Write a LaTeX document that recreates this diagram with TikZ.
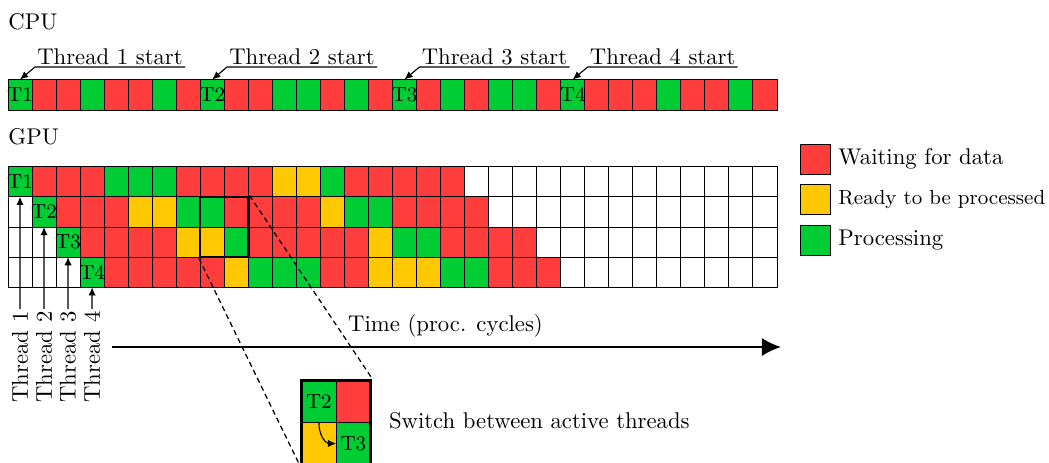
\documentclass[tikz,border=0pt]{standalone}
\usetikzlibrary{arrows.meta,fit,calc}
\definecolor{colR}{RGB}{255,61,61}
\definecolor{colG}{RGB}{0,204,51}
\definecolor{colY}{RGB}{255,200,0}
\definecolor{colW}{RGB}{255,255,255}
\begin{document}
\begin{tikzpicture}[x=0.44pt,y=-0.44pt,
  cell/.style={draw=black,line width=0.4pt,minimum width=10.57pt,minimum height=13.29pt,inner sep=0pt,outer sep=0pt},
  cpucell/.style={cell,minimum height=13.42pt},
  icell/.style={draw=black,line width=0.4pt,minimum width=15.18pt,minimum height=18.6pt,inner sep=0pt,outer sep=0pt},
  tlab/.style={inner sep=0pt,font=\small},
  lsq/.style={draw=black,line width=0.4pt,minimum size=13.2pt,inner sep=0pt},
  sarrow/.style={line width=0.5pt,-{Latex[length=3.6pt,width=3.2pt]}},
  tstart/.style={anchor=south west,inner sep=1pt,outer sep=0pt},
  thr/.style={rotate=90,inner sep=1pt},
  zoomline/.style={line width=0.55pt,dash pattern=on 2.3pt off 1.6pt}]
\useasboundingbox (0,0) rectangle (1049,463);

% labels
\node[anchor=west,inner sep=0pt] (cpulab) at (8,22) {CPU};
\node[anchor=west,inner sep=0pt] (gpulab) at (8,137) {GPU};

% CPU row
\foreach \c [count=\i from 0] in {G,R,R,G,R,R,G,R,G,R,R,G,G,R,G,R,G,R,G,R,G,G,R,G,R,R,R,G,R,R,G,R}
  \node[cpucell,fill=col\c] (cpu-\i) at ({8+24.03*(\i+0.5)},94.75) {};
\node[tlab] (ct1) at (cpu-0) {T1};
\node[tlab] (ct2) at (cpu-8) {T2};
\node[tlab] (ct3) at (cpu-16) {T3};
\node[tlab] (ct4) at (cpu-23) {T4};

% thread start annotations
\node[tstart] (ts1) at (35,67) {Thread 1 start};
\node[tstart] (ts2) at (227,67) {Thread 2 start};
\node[tstart] (ts3) at (419.5,67) {Thread 3 start};
\node[tstart] (ts4) at (587.7,67) {Thread 4 start};
\draw[sarrow] (ts1.south east) -- (ts1.south west) -- (cpu-0.north);
\draw[sarrow] (ts2.south east) -- (ts2.south west) -- (cpu-8.north);
\draw[sarrow] (ts3.south east) -- (ts3.south west) -- (cpu-16.north);
\draw[sarrow] (ts4.south east) -- (ts4.south west) -- (cpu-23.north);

% GPU grid
\foreach \c [count=\i from 0] in {G,R,R,R,G,G,G,R,R,R,R,Y,Y,G,R,R,R,R,R,W,W,W,W,W,W,W,W,W,W,W,W,W}
  \node[cell,fill=col\c] (g1-\i) at ({8+24.03*(\i+0.5)},181.8) {};
\foreach \c [count=\i from 0] in {W,G,R,R,R,Y,Y,G,G,R,R,R,R,Y,G,G,R,R,R,R,W,W,W,W,W,W,W,W,W,W,W,W}
  \node[cell,fill=col\c] (g2-\i) at ({8+24.03*(\i+0.5)},211.9) {};
\foreach \c [count=\i from 0] in {W,W,G,R,R,R,R,Y,Y,G,R,R,R,R,R,Y,G,G,R,R,R,R,W,W,W,W,W,W,W,W,W,W}
  \node[cell,fill=col\c] (g3-\i) at ({8+24.03*(\i+0.5)},242.1) {};
\foreach \c [count=\i from 0] in {W,W,W,G,R,R,R,R,R,Y,G,G,G,R,R,Y,Y,Y,G,G,R,R,R,W,W,W,W,W,W,W,W,W}
  \node[cell,fill=col\c] (g4-\i) at ({8+24.03*(\i+0.5)},272.2) {};
\node[tlab] (gt1) at (g1-0) {T1};
\node[tlab] (gt2) at (g2-1) {T2};
\node[tlab] (gt3) at (g3-2) {T3};
\node[tlab] (gt4) at (g4-3) {T4};

% zoom box
\node[fit=(g2-8)(g3-9),draw,line width=1.1pt,inner sep=0pt] (zbox) {};

% thread arrows
\node[thr] (thr1) at (20,357) {Thread 1};
\node[thr] (thr2) at (44,357) {Thread 2};
\node[thr] (thr3) at (68,357) {Thread 3};
\node[thr] (thr4) at (92,357) {Thread 4};
\draw[sarrow] (thr1.east) -- (g2-0.north);
\draw[sarrow] (thr2.east) -- (g3-1.north);
\draw[sarrow] (thr3.east) -- (g4-2.north);
\draw[sarrow] (thr4.east) -- (g4-3.south);

% time axis
\node (timelab) at (445.5,326) {Time (proc. cycles)};
\coordinate (tstartc) at (112,347);
\coordinate (tendc) at (781,347);
\draw[line width=0.9pt,-{Latex[length=8.4pt,width=8pt]}] (tstartc) -- (tendc);

% inset
\node[icell,fill=colG] (i11) at (318.9,401.2) {};
\node[icell,fill=colR] (i12) at (353.4,401.2) {};
\node[icell,fill=colY] (i21) at (318.9,443.5) {};
\node[icell,fill=colG] (i22) at (353.4,443.5) {};
\node[tlab] (it2) at (i11) {T2};
\node[tlab] (it3) at (i22) {T3};
\node[fit=(i11)(i22),draw,line width=1.3pt,inner sep=0pt] (ibox) {};
\draw[sarrow] (i11.south) .. controls ($(i11.south)+(0,14)$) and ($(i22.west)+(-10,0)$) .. (i22.west);
\draw[zoomline] (zbox.south west) -- (ibox.south west);
\draw[zoomline] (zbox.north east) -- (ibox.north east);
\node[anchor=west] (switchlab) at (381,421) {Switch between active threads};

% legend
\node[lsq,fill=colR] (lr) at (815,159) {};
\node[lsq,fill=colY] (ly) at (815,199) {};
\node[lsq,fill=colG] (lg) at (815,240) {};
\node[anchor=west] (lrt) at (lr.east) {Waiting for data};
\node[anchor=west,font=\small] (lyt) at (ly.east) {Ready to be processed};
\node[anchor=west] (lgt) at (lg.east) {Processing};
\end{tikzpicture}
\end{document}
